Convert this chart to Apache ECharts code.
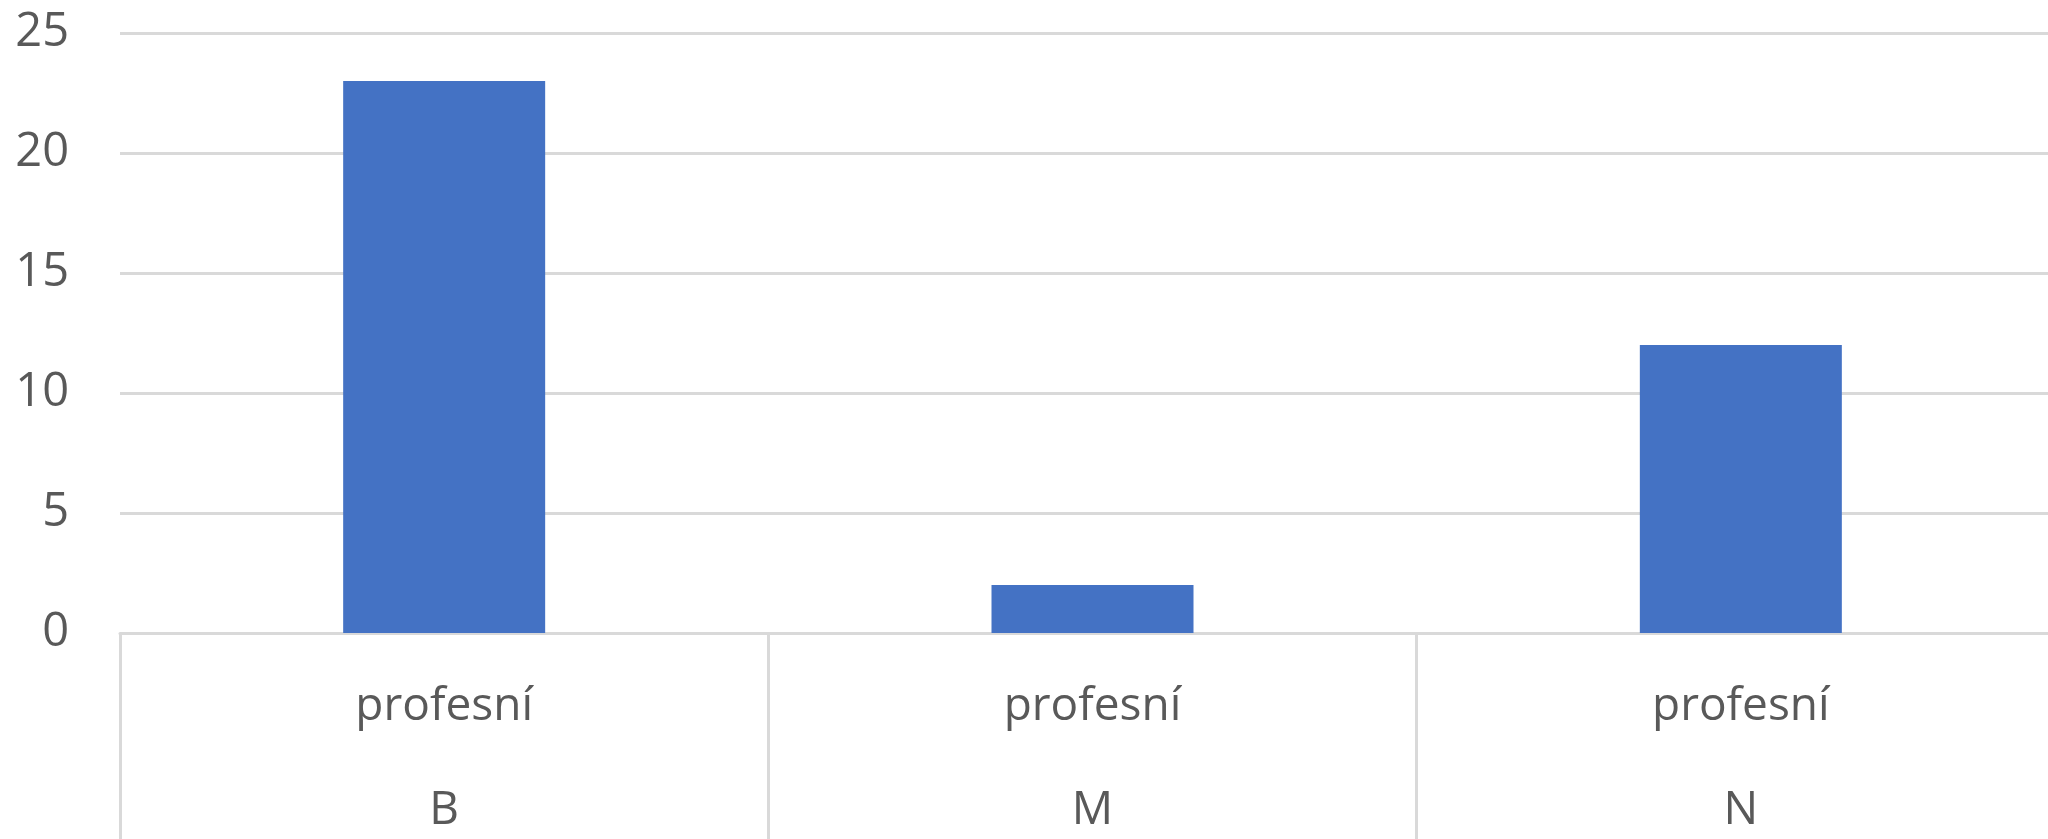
<!DOCTYPE html>
<html>
<head>
<meta charset="utf-8">
<script src="https://cdn.jsdelivr.net/npm/echarts@6/dist/echarts.min.js"></script>
<style>
  html, body { margin: 0; padding: 0; background: #fff; }
  #chart { width: 2048px; height: 839px; }
</style>
</head>
<body>
<div id="chart"></div>
<script>
const categories = ['profesní\nB', 'profesní\nM', 'profesní\nN']
const values = [23, 2, 12]
const yTicks = [0, 5, 10, 15, 20, 25]

const textColor = '#595959'
const lineColor = '#d9d9d9'

const chart = echarts.init(document.getElementById('chart'))
chart.setOption({
  animation: false,
  grid: {
    left: 120,
    right: -17,
    top: 33,
    bottom: 206,
    outerBoundsMode: 'none',
    containLabel: false
  },
  xAxis: {
    type: 'category',
    data: categories,
    axisLine: {
      show: true,
      lineStyle: { color: lineColor, width: 3 }
    },
    axisTick: {
      show: true,
      alignWithLabel: false,
      length: 230,
      lineStyle: { color: lineColor, width: 3 }
    },
    axisLabel: {
      interval: 0,
      color: textColor,
      fontFamily: 'Open Sans',
      fontSize: 46,
      lineHeight: 104,
      margin: 22
    }
  },
  yAxis: {
    type: 'value',
    min: yTicks[0],
    max: yTicks[yTicks.length - 1],
    interval: 5,
    axisLine: { show: false },
    axisTick: { show: false },
    splitLine: {
      lineStyle: { color: lineColor, width: 3 }
    },
    axisLabel: {
      color: textColor,
      fontFamily: 'Open Sans',
      fontSize: 47,
      margin: 51
    }
  },
  series: [
    {
      type: 'bar',
      data: values,
      barWidth: 202,
      itemStyle: { color: '#4472c4' }
    }
  ]
})
</script>
</body>
</html>
